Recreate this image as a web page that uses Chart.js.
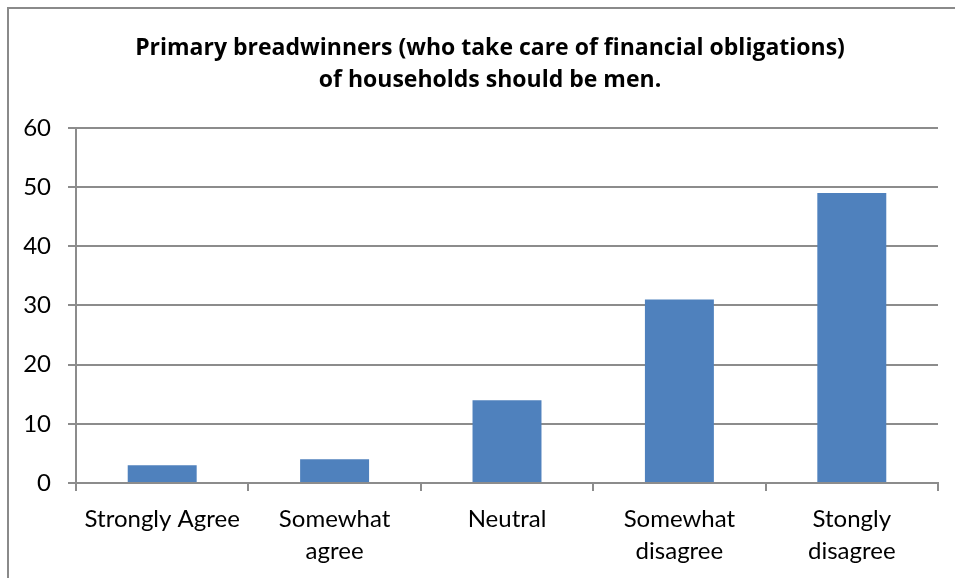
<!DOCTYPE html>
<html>
<head>
<meta charset="utf-8">
<script src="https://cdn.jsdelivr.net/npm/chart.js@4"></script>
<style>
  html, body { margin: 0; padding: 0; background: #fff; }
  #wrap { position: relative; width: 955px; height: 578px; overflow: hidden; }
  #frame { position: absolute; left: 7px; top: 7px; width: 1000px; height: 620px;
           border: 2px solid #8a8a8a; box-sizing: border-box; pointer-events: none; }
  canvas { position: absolute; left: 0; top: 0; }
</style>
</head>
<body>
<div id="wrap">
  <canvas id="chart" width="955" height="578"></canvas>
  <div id="frame"></div>
</div>
<script>
  const titleLines = [
    "Primary breadwinners (who take care of financial obligations)",
    "of households should be men."
  ];
  const categories = [
    "Strongly Agree",
    ["Somewhat", "agree"],
    "Neutral",
    ["Somewhat", "disagree"],
    ["Stongly", "disagree"]
  ];
  const values = [3, 4, 14, 31, 49];
  const yTicks = { min: 0, max: 60, step: 10 };

  const FONT = "Lato, 'Open Sans', sans-serif";
  const TITLE_FONT = "'Open Sans', Lato, sans-serif";
  const gridGray = "#8c8c8c";

  // the title sits a bit left of the plot centre, as in the original
  const shiftTitle = {
    id: "shiftTitle",
    afterLayout(chart) {
      if (chart.titleBlock) chart.titleBlock.left = 42;
    }
  };

  new Chart(document.getElementById("chart"), {
    type: "bar",
    data: {
      labels: categories,
      datasets: [{
        data: values,
        backgroundColor: "#4f81bd",
        categoryPercentage: 0.4,
        barPercentage: 1.0
      }]
    },
    options: {
      responsive: false,
      animation: false,
      layout: { padding: { left: 16, right: 17, top: 0, bottom: 0 } },
      plugins: {
        legend: { display: false },
        tooltip: { enabled: false },
        title: {
          display: true,
          text: titleLines,
          color: "#000",
          font: { family: TITLE_FONT, size: 23, weight: "bold", lineHeight: 1.39 },
          padding: { top: 32, bottom: 32 }
        }
      },
      scales: {
        x: {
          grid: { drawOnChartArea: false, drawTicks: true, tickLength: 8, color: gridGray, lineWidth: 2, offset: true },
          border: { color: gridGray, width: 2 },
          ticks: { color: "#000", font: { family: FONT, size: 24, lineHeight: 1.333 }, padding: 12, maxRotation: 0, autoSkip: false },
          afterFit: (s) => { s.height = 95; }
        },
        y: {
          min: yTicks.min,
          max: yTicks.max,
          grid: { color: gridGray, lineWidth: 2, tickLength: 8 },
          border: { color: gridGray, width: 2 },
          ticks: { stepSize: yTicks.step, color: "#000", font: { family: FONT, size: 24 }, padding: 17 },
          afterFit: (s) => { s.width = 60; }
        }
      }
    },
    plugins: [shiftTitle]
  });
</script>
</body>
</html>
